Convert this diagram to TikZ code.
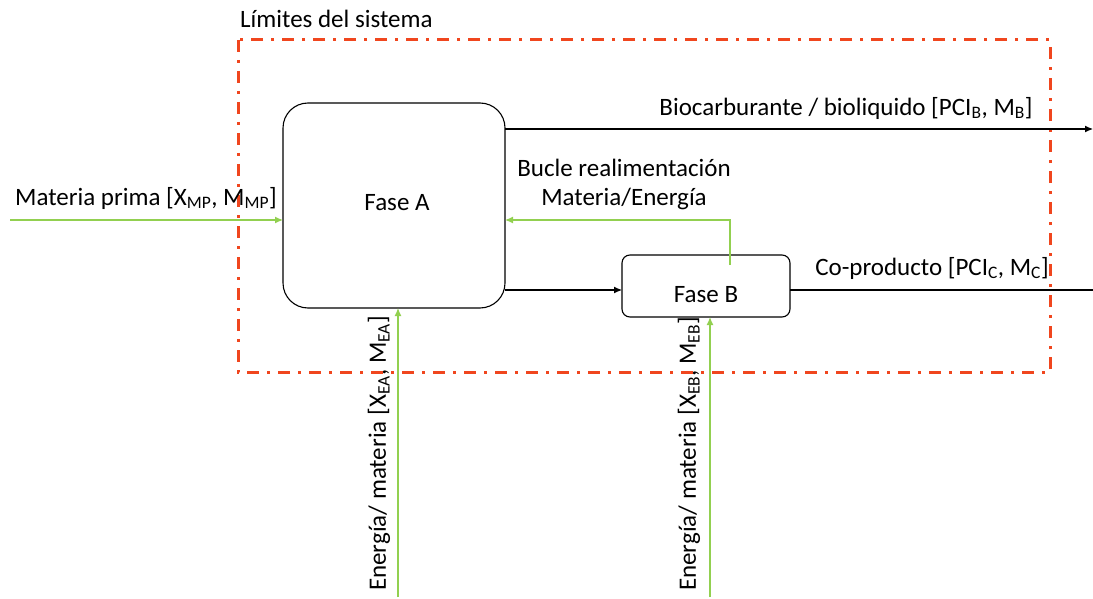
\documentclass[tikz,border=0pt]{standalone}
\usepackage{fontspec}
\setmainfont{Carlito}
\usetikzlibrary{arrows.meta}
\definecolor{lgreen}{RGB}{146,208,80}
\definecolor{bred}{RGB}{240,70,30}
\begin{document}
\begin{tikzpicture}[x=1pt,y=-1pt,
  lbl/.style={font=\fontsize{25}{29}\selectfont,inner sep=0pt},
  phase/.style={draw,line width=1.1pt,rounded corners=#1},
  garrow/.style={lgreen,line width=1.3pt,-{Latex[length=8pt,width=7pt]}},
  karrow/.style={black,line width=1.1pt,-{Latex[length=8pt,width=7pt]}}]
\useasboundingbox (0,0) rectangle (1093,599);
\draw[bred,line width=3pt,dash pattern=on 12pt off 8pt on 3pt off 8pt] (238,40) rectangle (1050,372);
\node[lbl,anchor=west] (lim) at (240,19) {Límites del sistema};
\draw[phase=25pt] (283,103) rectangle (505,308);
\node[lbl] (fa) at (397,203) {Fase A};
\draw[phase=8pt] (622,255) rectangle (790,317);
\node[lbl] (fb) at (706,295) {Fase B};
\coordinate (bio0) at (505,129);
\coordinate (bio1) at (1093,129);
\draw[karrow] (bio0) -- (bio1);
\node[lbl] (biot) at (846,108) {Biocarburante / bioliquido [PCI\textsubscript{B}, M\textsubscript{B}]};
\coordinate (mp0) at (10,220);
\coordinate (mp1) at (283,220);
\draw[garrow] (mp0) -- (mp1);
\node[lbl] (mpt) at (146,198) {Materia prima [X\textsubscript{MP}, M\textsubscript{MP}]};
\coordinate (fb0) at (730,265);
\coordinate (fb1) at (505,220);
\draw[garrow] (fb0) |- (fb1);
\node[lbl,align=center] (bt) at (624,184) {Bucle realimentación\\[0pt]Materia/Energía};
\coordinate (ab0) at (505,290);
\coordinate (ab1) at (622,290);
\draw[karrow] (ab0) -- (ab1);
\coordinate (cp0) at (790,290);
\coordinate (cp1) at (1093,290);
\draw[black,line width=1.1pt] (cp0) -- (cp1);
\node[lbl] (cpt) at (932,268) {Co-producto [PCI\textsubscript{C}, M\textsubscript{C}]};
\coordinate (ea0) at (398,597);
\coordinate (ea1) at (398,308);
\draw[garrow] (ea0) -- (ea1);
\node[lbl,rotate=90,anchor=west] (eat) at (379,591) {Energía/ materia [X\textsubscript{EA}, M\textsubscript{EA}]};
\coordinate (eb0) at (710,597);
\coordinate (eb1) at (710,317);
\draw[garrow] (eb0) -- (eb1);
\node[lbl,rotate=90,anchor=west] (ebt) at (689,591) {Energía/ materia [X\textsubscript{EB}, M\textsubscript{EB}]};
\end{tikzpicture}
\end{document}
